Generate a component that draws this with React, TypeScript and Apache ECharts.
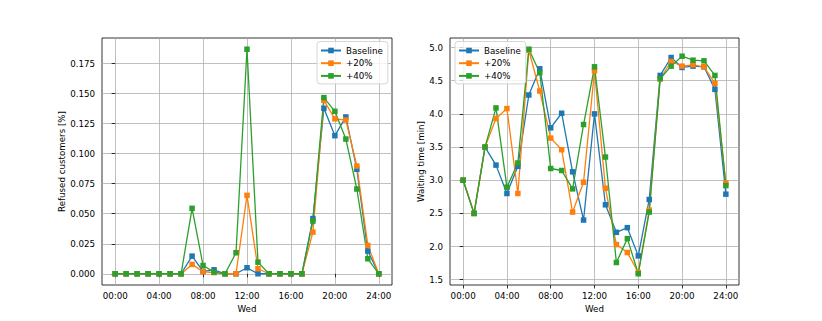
import React, { useEffect, useRef } from "react";
import * as echarts from "echarts";

const hours = [0, 1, 2, 3, 4, 5, 6, 7, 8, 9, 10, 11, 12, 13, 14, 15, 16, 17, 18, 19, 20, 21, 22, 23, 24];
const xTicks = [0, 4, 8, 12, 16, 20, 24];

const seriesNames = ["Baseline", "+20%", "+40%"];
const colors = ["#1f77b4", "#ff7f0e", "#2ca02c"];

const refusedBaseline = [0, 0, 0, 0, 0, 0, 0, 0.0147, 0.002, 0.0033, 0, 0, 0.005, 0, 0, 0, 0, 0, 0.046, 0.1378, 0.115, 0.1306, 0.087, 0.0189, 0];
const refused20 = [0, 0, 0, 0, 0, 0, 0, 0.0078, 0.0017, 0.001, 0, 0, 0.0653, 0.0042, 0, 0, 0, 0, 0.0347, 0.1444, 0.129, 0.128, 0.0897, 0.0236, 0];
const refused40 = [0, 0, 0, 0, 0, 0, 0, 0.0545, 0.0069, 0.0014, 0, 0.0175, 0.187, 0.0097, 0, 0, 0, 0, 0.0439, 0.1467, 0.1353, 0.1122, 0.0706, 0.0125, 0];
const refusedTicks = [0, 0.025, 0.05, 0.075, 0.1, 0.125, 0.15, 0.175];

const waitBaseline = [3.0, 2.5, 3.5, 3.228, 2.8, 3.21, 4.285, 4.68, 3.79, 4.01, 3.127, 2.4, 4.0, 2.63, 2.215, 2.285, 1.86, 2.71, 4.58, 4.85, 4.7, 4.72, 4.71, 4.37, 2.79];
const wait20 = [3.0, 2.5, 3.5, 3.93, 4.08, 2.8, 4.96, 4.345, 3.635, 3.46, 2.52, 2.97, 4.65, 2.88, 2.03, 1.91, 1.61, 2.55, 4.53, 4.79, 4.72, 4.74, 4.71, 4.46, 2.96];
const wait40 = [3.0, 2.5, 3.5, 4.09, 2.895, 3.26, 4.975, 4.62, 3.177, 3.147, 2.87, 3.84, 4.71, 3.35, 1.76, 2.12, 1.59, 2.52, 4.53, 4.72, 4.87, 4.81, 4.8, 4.58, 2.92];
const waitTicks = [1.5, 2.0, 2.5, 3.0, 3.5, 4.0, 4.5, 5.0];

const FONT = "DejaVu Sans";
const FS = 8.7;

function padRange(arrs: number[][]) {
  const all = arrs.flat();
  const lo = Math.min(...all);
  const hi = Math.max(...all);
  const m = (hi - lo) * 0.05;
  return [lo - m, hi + m];
}

export default function App() {
  const ref = useRef<HTMLDivElement>(null);
  useEffect(() => {
    document.body.style.margin = "0";
    const chart = echarts.init(ref.current!, null, { renderer: "svg" });
    const leftRange = padRange([refusedBaseline, refused20, refused40]);
    const rightRange = padRange([waitBaseline, wait20, wait40]);
    const xMin = hours[0] - (hours[hours.length - 1] - hours[0]) * 0.05;
    const xMax = hours[hours.length - 1] + (hours[hours.length - 1] - hours[0]) * 0.05;

    const xAxisFor = (gi: number) => ({
      type: "value",
      gridIndex: gi,
      min: xMin,
      max: xMax,
      name: "Wed",
      nameLocation: "middle",
      nameGap: 17,
      nameTextStyle: { fontFamily: FONT, fontSize: FS, color: "#000" },
      axisLine: { show: false },
      axisTick: { show: true, length: 3.5, lineStyle: { color: "#000", width: 0.8 }, customValues: xTicks },
      axisLabel: {
        fontFamily: FONT,
        fontSize: FS,
        color: "#000",
        margin: 6,
        customValues: xTicks,
        formatter: (v: number) => String(Math.round(v)).padStart(2, "0") + ":00",
      },
      splitLine: { show: true, lineStyle: { color: "#b0b0b0", width: 0.8 } },
    });

    const yAxisFor = (gi: number, range: number[], ticks: number[], name: string, dec: number, gap: number) => ({
      type: "value",
      gridIndex: gi,
      min: range[0],
      max: range[1],
      name,
      nameLocation: "middle",
      nameGap: gap,
      nameTextStyle: { fontFamily: FONT, fontSize: FS, color: "#000" },
      axisLine: { show: false },
      axisTick: { show: true, length: 3.5, lineStyle: { color: "#000", width: 0.8 }, customValues: ticks },
      axisLabel: {
        fontFamily: FONT,
        fontSize: FS,
        color: "#000",
        margin: 7,
        customValues: ticks,
        formatter: (v: number) => v.toFixed(dec),
      },
      splitLine: { show: true, lineStyle: { color: "#b0b0b0", width: 0.8 } },
    });

    const mk = (name: string, vals: number[], color: string, gi: number) => ({
      type: "line",
      name,
      xAxisIndex: gi,
      yAxisIndex: gi,
      data: hours.map((h, i) => [h, vals[i]]),
      symbol: "rect",
      symbolSize: 5.5,
      showSymbol: true,
      clip: false,
      color,
      itemStyle: { color },
      lineStyle: { color, width: 1.3 },
    });

    const legendBase = {
      orient: "vertical",
      top: 41.5,
      itemWidth: 20,
      itemHeight: 7,
      itemGap: 2.7,
      padding: [4, 5, 3, 3],
      backgroundColor: "rgba(255,255,255,0.8)",
      borderColor: "#cccccc",
      borderWidth: 0.8,
      borderRadius: 3,
      textStyle: { fontFamily: FONT, fontSize: FS, color: "#000", lineHeight: 10 },
      data: seriesNames,
    };

    chart.setOption({
      animation: false,
      backgroundColor: "#ffffff",
      grid: [
        { left: 102, top: 38, width: 290, height: 247, show: true, borderColor: "#000", borderWidth: 0.8, backgroundColor: "transparent" },
        { left: 450, top: 38, width: 289, height: 247, show: true, borderColor: "#000", borderWidth: 0.8, backgroundColor: "transparent" },
      ],
      legend: [
        { ...legendBase, left: 317 },
        { ...legendBase, left: 455 },
      ],
      xAxis: [xAxisFor(0), xAxisFor(1)],
      yAxis: [
        yAxisFor(0, leftRange, refusedTicks, "Refused customers [%]", 3, 34),
        yAxisFor(1, rightRange, waitTicks, "Waiting time [min]", 1, 24),
      ],
      series: [
        mk(seriesNames[0], refusedBaseline, colors[0], 0),
        mk(seriesNames[1], refused20, colors[1], 0),
        mk(seriesNames[2], refused40, colors[2], 0),
        mk(seriesNames[0], waitBaseline, colors[0], 1),
        mk(seriesNames[1], wait20, colors[1], 1),
        mk(seriesNames[2], wait40, colors[2], 1),
      ],
    });
    return () => chart.dispose();
  }, []);
  return <div ref={ref} style={{ width: 822, height: 321 }} />;
}
